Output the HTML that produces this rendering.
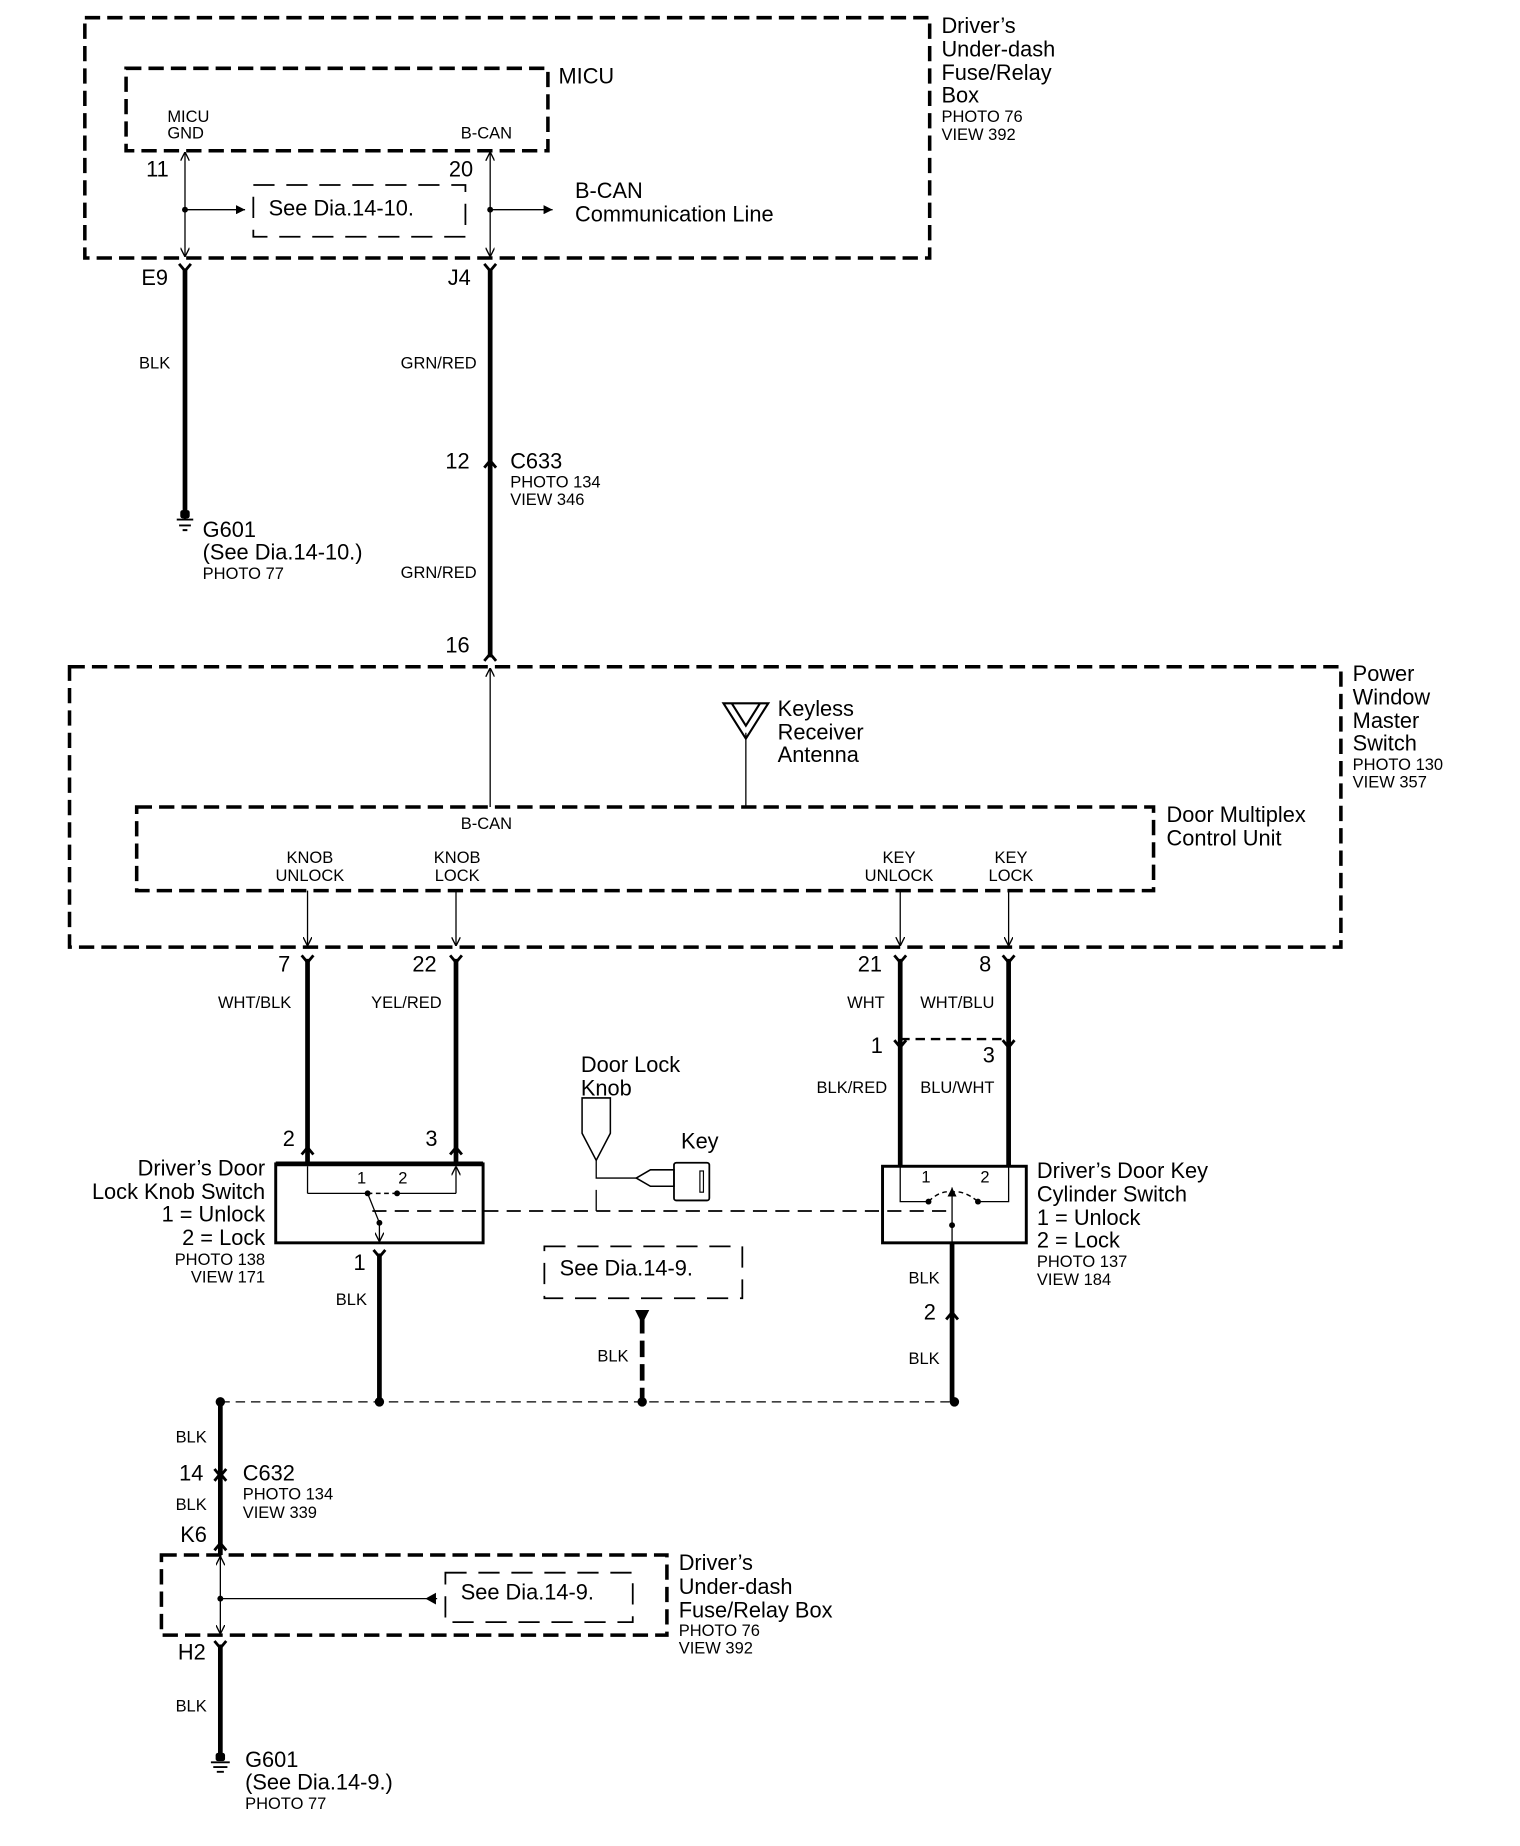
<!DOCTYPE html>
<html><head><meta charset="utf-8"><style>
html,body{margin:0;padding:0;background:#fff;}
svg{display:block;}
text{font-family:"Liberation Sans",Arial,sans-serif;fill:#000;dominant-baseline:middle;}
.L{font-size:18.5px;}
.S{font-size:14px;}
.W{font-size:14px;}
.thick{stroke:#000;stroke-width:4;fill:none;}
.thin{stroke:#000;stroke-width:1.1;fill:none;}
.box{stroke:#000;stroke-width:3;fill:none;stroke-dasharray:13 6;}
.sbox{stroke:#000;stroke-width:1.5;fill:none;stroke-dasharray:18 10;}
.con{stroke:#000;stroke-width:2.4;fill:none;}
</style></head><body>
<svg width="1520" height="1846" viewBox="0 0 1290 1567" preserveAspectRatio="none" xmlns="http://www.w3.org/2000/svg">
<defs>
<marker id="a" viewBox="0 0 10 10" refX="10" refY="5" markerWidth="7" markerHeight="7" orient="auto-start-reverse"><path d="M0 0 L10 5 L0 10" fill="none" stroke="#000" stroke-width="1.5"/></marker>
<marker id="f" viewBox="0 0 10 10" refX="10" refY="5" markerWidth="7" markerHeight="7" orient="auto"><path d="M0 0 L10 5 L0 10 Z" fill="#000"/></marker>
</defs>

<!-- top fuse box -->
<rect x="72" y="15" width="717" height="204" class="box"/>
<text x="799" y="23" class="L">Driver’s</text>
<text x="799" y="43" class="L">Under-dash</text>
<text x="799" y="63" class="L">Fuse/Relay</text>
<text x="799" y="82" class="L">Box</text>
<text x="799" y="100" class="S">PHOTO 76</text>
<text x="799" y="115" class="S">VIEW 392</text>
<rect x="107" y="58" width="358" height="70" class="box"/>
<text x="474" y="66" class="L">MICU</text>
<text x="142" y="100" class="S">MICU</text>
<text x="142" y="114" class="S">GND</text>
<text x="391" y="114" class="S">B-CAN</text>
<line x1="157" y1="129" x2="157" y2="218" class="thin" marker-start="url(#a)" marker-end="url(#a)"/>
<line x1="416" y1="129" x2="416" y2="218" class="thin" marker-start="url(#a)" marker-end="url(#a)"/>
<text x="124" y="145" class="L">11</text>
<text x="381" y="145" class="L">20</text>
<circle cx="157" cy="178" r="2.5"/><line x1="157" y1="178" x2="208" y2="178" class="thin" marker-end="url(#f)"/>
<circle cx="416" cy="178" r="2.5"/><line x1="416" y1="178" x2="469" y2="178" class="thin" marker-end="url(#f)"/>
<rect x="215" y="157" width="180" height="44" class="sbox"/>
<text x="228" y="178" class="L">See Dia.14-10.</text>
<text x="488" y="163" class="L">B-CAN</text>
<text x="488" y="183" class="L">Communication Line</text>

<!-- wires from top box -->
<path d="M152 224 L157 230 L162 224" class="con"/><path d="M411 224 L416 230 L421 224" class="con"/>
<line x1="157" y1="228" x2="157" y2="440" class="thick"/>
<line x1="416" y1="228" x2="416" y2="558" class="thick"/>
<text x="120" y="237" class="L">E9</text>
<text x="380" y="237" class="L">J4</text>
<text x="118" y="309" class="W">BLK</text>
<text x="340" y="309" class="W">GRN/RED</text>
<path d="M411 397 L416 391 L421 397" class="con"/>
<text x="378" y="393" class="L">12</text>
<text x="433" y="393" class="L">C633</text>
<text x="433" y="410" class="S">PHOTO 134</text>
<text x="433" y="425" class="S">VIEW 346</text>
<path d="M157 437 v4 M150 441 h14 M152 446 h10 M155 450 h4" stroke="#000" stroke-width="1.6"/>
<rect x="153" y="433" width="8" height="7" rx="2"/>
<text x="172" y="451" class="L">G601</text>
<text x="172" y="470" class="L">(See Dia.14-10.)</text>
<text x="172" y="488" class="S">PHOTO 77</text>
<text x="340" y="487" class="W">GRN/RED</text>
<text x="378" y="549" class="L">16</text>
<path d="M411 561 L416 555 L421 561" class="con"/>

<!-- power window master switch -->
<rect x="59" y="566" width="1079" height="238" class="box"/>
<text x="1148" y="573" class="L">Power</text>
<text x="1148" y="593" class="L">Window</text>
<text x="1148" y="613" class="L">Master</text>
<text x="1148" y="632" class="L">Switch</text>
<text x="1148" y="650" class="S">PHOTO 130</text>
<text x="1148" y="665" class="S">VIEW 357</text>
<line x1="416" y1="685" x2="416" y2="567" class="thin" marker-end="url(#a)"/>
<path d="M614 597 L652 597 L633 627 Z M621 597 L633 616 L645 597" fill="none" stroke="#000" stroke-width="1.8"/>
<line x1="633" y1="622" x2="633" y2="685" class="thin"/>
<text x="660" y="603" class="L">Keyless</text>
<text x="660" y="623" class="L">Receiver</text>
<text x="660" y="642" class="L">Antenna</text>
<rect x="116" y="685" width="863" height="71" class="box"/>
<text x="391" y="700" class="S">B-CAN</text>
<text x="990" y="693" class="L">Door Multiplex</text>
<text x="990" y="713" class="L">Control Unit</text>
<g text-anchor="middle">
<text x="263" y="729" class="S">KNOB</text><text x="263" y="744" class="S">UNLOCK</text>
<text x="388" y="729" class="S">KNOB</text><text x="388" y="744" class="S">LOCK</text>
<text x="763" y="729" class="S">KEY</text><text x="763" y="744" class="S">UNLOCK</text>
<text x="858" y="729" class="S">KEY</text><text x="858" y="744" class="S">LOCK</text>
</g>
<line x1="261" y1="756" x2="261" y2="803" class="thin" marker-end="url(#a)"/>
<line x1="387" y1="756" x2="387" y2="803" class="thin" marker-end="url(#a)"/>
<line x1="764" y1="756" x2="764" y2="803" class="thin" marker-end="url(#a)"/>
<line x1="856" y1="756" x2="856" y2="803" class="thin" marker-end="url(#a)"/>

<!-- lower wires -->
<g class="con">
<path d="M256 811 L261 817 L266 811"/><path d="M382 811 L387 817 L392 811"/>
<path d="M759 811 L764 817 L769 811"/><path d="M851 811 L856 817 L861 811"/>
<path d="M759 883 L764 889 L769 883"/><path d="M851 883 L856 889 L861 883"/>
<path d="M256 980 L261 974 L266 980"/><path d="M382 980 L387 974 L392 980"/>
</g>
<line x1="261" y1="814" x2="261" y2="988" class="thick"/>
<line x1="387" y1="814" x2="387" y2="988" class="thick"/>
<line x1="764" y1="814" x2="764" y2="990" class="thick"/>
<line x1="856" y1="814" x2="856" y2="990" class="thick"/>
<line x1="764" y1="882" x2="856" y2="882" stroke="#000" stroke-width="2" stroke-dasharray="8 5"/>
<text x="236" y="820" class="L">7</text><text x="350" y="820" class="L">22</text>
<text x="728" y="820" class="L">21</text><text x="831" y="820" class="L">8</text>
<text x="185" y="852" class="W">WHT/BLK</text><text x="315" y="852" class="W">YEL/RED</text>
<text x="719" y="852" class="W">WHT</text><text x="781" y="852" class="W">WHT/BLU</text>
<text x="739" y="889" class="L">1</text><text x="834" y="897" class="L">3</text>
<text x="693" y="924" class="W">BLK/RED</text><text x="781" y="924" class="W">BLU/WHT</text>
<text x="240" y="968" class="L">2</text><text x="361" y="968" class="L">3</text>

<!-- knob switch -->
<rect x="234" y="988" width="176" height="67" fill="none" stroke="#000" stroke-width="2.5"/>
<line x1="234" y1="988" x2="410" y2="988" stroke="#000" stroke-width="4"/>
<path d="M261 1013 L261 990 M387 1013 L387 990" class="thin" marker-end="url(#a)"/>
<path d="M261 1013 L312 1013 M337 1013 L387 1013" class="thin"/>
<path d="M312 1013 L337 1013" stroke="#000" stroke-width="1.2" stroke-dasharray="4 3"/>
<circle cx="312" cy="1013" r="2.5"/><circle cx="337" cy="1013" r="2.5"/>
<text x="303" y="1001" class="S">1</text><text x="338" y="1001" class="S">2</text>
<line x1="312" y1="1013" x2="322" y2="1038" class="thin"/><circle cx="322" cy="1038" r="2.5"/>
<line x1="322" y1="1038" x2="322" y2="1054" class="thin" marker-end="url(#a)"/>
<g text-anchor="end">
<text x="225" y="993" class="L">Driver’s Door</text>
<text x="225" y="1013" class="L">Lock Knob Switch</text>
<text x="225" y="1032" class="L">1 = Unlock</text>
<text x="225" y="1052" class="L">2 = Lock</text>
<text x="225" y="1070" class="S">PHOTO 138</text>
<text x="225" y="1085" class="S">VIEW 171</text>
</g>
<line x1="316" y1="1028" x2="808" y2="1028" stroke="#000" stroke-width="1.5" stroke-dasharray="12 7"/>

<!-- knob and key -->
<text x="493" y="905" class="L">Door Lock</text>
<text x="493" y="925" class="L">Knob</text>
<path d="M494 932 L518 932 L518 962 L506 985 L494 962 Z" fill="none" stroke="#000" stroke-width="1.3"/>
<path d="M506 985 L506 1000 L540 1000 M506 1010 L506 1028" class="thin"/>
<path d="M552 993 L540 1000 L552 1007 L572 1007 L572 993 Z" fill="none" stroke="#000" stroke-width="1.3"/>
<rect x="572" y="987" width="30" height="32" rx="2" fill="none" stroke="#000" stroke-width="1.5"/>
<rect x="594" y="994" width="3" height="18" fill="none" stroke="#000" stroke-width="1"/>
<text x="578" y="970" class="L">Key</text>

<!-- key cylinder switch -->
<rect x="749" y="990" width="122" height="65" fill="none" stroke="#000" stroke-width="2.5"/>
<path d="M764 990 L764 1020 L788 1020 M856 990 L856 1020 L830 1020" class="thin"/>
<circle cx="788" cy="1020" r="2.5"/><circle cx="830" cy="1020" r="2.5"/>
<path d="M788 1020 Q798 1010 808 1012 Q818 1010 830 1020" fill="none" stroke="#000" stroke-width="1.2" stroke-dasharray="4 3"/>
<line x1="808" y1="1055" x2="808" y2="1008" class="thin" marker-end="url(#f)"/>
<circle cx="808" cy="1040" r="2.5"/>
<text x="782" y="1000" class="S">1</text><text x="832" y="1000" class="S">2</text>
<text x="880" y="995" class="L">Driver’s Door Key</text>
<text x="880" y="1015" class="L">Cylinder Switch</text>
<text x="880" y="1035" class="L">1 = Unlock</text>
<text x="880" y="1054" class="L">2 = Lock</text>
<text x="880" y="1072" class="S">PHOTO 137</text>
<text x="880" y="1087" class="S">VIEW 184</text>
<line x1="808" y1="1055" x2="808" y2="1190" class="thick"/>
<path d="M803 1120 L808 1114 L813 1120" class="con"/>
<text x="771" y="1086" class="W">BLK</text>
<text x="784" y="1115" class="L">2</text>
<text x="771" y="1154" class="W">BLK</text>

<!-- knob switch bottom wire -->
<path d="M317 1061 L322 1067 L327 1061" class="con"/>
<line x1="322" y1="1064" x2="322" y2="1190" class="thick"/>
<text x="300" y="1073" class="L">1</text>
<text x="285" y="1104" class="W">BLK</text>

<!-- see dia 14-9 middle -->
<rect x="462" y="1058" width="168" height="44" class="sbox"/>
<text x="475" y="1078" class="L">See Dia.14-9.</text>
<path d="M539 1112 L551 1112 L545 1124 Z"/>
<line x1="545" y1="1118" x2="545" y2="1190" stroke="#000" stroke-width="4" stroke-dasharray="14 6"/>
<text x="507" y="1152" class="W">BLK</text>

<!-- bus -->
<line x1="187" y1="1190" x2="810" y2="1190" stroke="#000" stroke-width="1" stroke-dasharray="8 5"/>
<circle cx="187" cy="1190" r="4"/><circle cx="322" cy="1190" r="4"/><circle cx="545" cy="1190" r="4"/><circle cx="810" cy="1190" r="4"/>

<line x1="187" y1="1190" x2="187" y2="1320" class="thick"/>
<text x="149" y="1221" class="W">BLK</text>
<path d="M182 1247 L187 1253 L192 1247 M182 1257 L187 1251 L192 1257" class="con"/>
<text x="152" y="1252" class="L">14</text>
<text x="206" y="1252" class="L">C632</text>
<text x="206" y="1269" class="S">PHOTO 134</text>
<text x="206" y="1285" class="S">VIEW 339</text>
<text x="149" y="1278" class="W">BLK</text>
<text x="153" y="1304" class="L">K6</text>
<path d="M182 1316 L187 1310 L192 1316" class="con"/>

<!-- bottom fuse box -->
<rect x="137" y="1320" width="429" height="68" class="box"/>
<line x1="187" y1="1321" x2="187" y2="1387" class="thin" marker-start="url(#a)" marker-end="url(#a)"/>
<circle cx="187" cy="1357" r="2.5"/>
<line x1="187" y1="1357" x2="371" y2="1357" class="thin"/>
<path d="M371 1357 L362 1352 L362 1362 Z" transform="rotate(180 366 1357)"/>
<rect x="378" y="1335" width="159" height="42" class="sbox"/>
<text x="391" y="1353" class="L">See Dia.14-9.</text>
<text x="576" y="1328" class="L">Driver’s</text>
<text x="576" y="1348" class="L">Under-dash</text>
<text x="576" y="1368" class="L">Fuse/Relay Box</text>
<text x="576" y="1385" class="S">PHOTO 76</text>
<text x="576" y="1400" class="S">VIEW 392</text>
<path d="M182 1393 L187 1399 L192 1393" class="con"/>
<line x1="187" y1="1396" x2="187" y2="1492" class="thick"/>
<text x="151" y="1404" class="L">H2</text>
<text x="149" y="1449" class="W">BLK</text>
<rect x="183" y="1488" width="8" height="7" rx="2"/>
<path d="M179 1496 h16 M181 1500 h12 M184 1504 h6" stroke="#000" stroke-width="1.6"/>
<text x="208" y="1495" class="L">G601</text>
<text x="208" y="1514" class="L">(See Dia.14-9.)</text>
<text x="208" y="1532" class="S">PHOTO 77</text>
</svg>
</body></html>
